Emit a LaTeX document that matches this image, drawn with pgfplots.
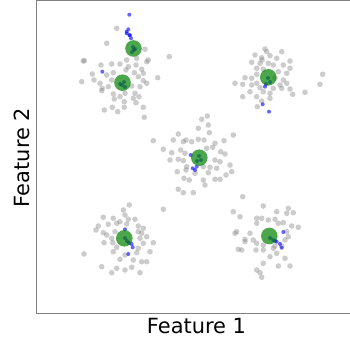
\documentclass[border=0pt]{standalone}
\usepackage{pgfplots}
\pgfplotsset{compat=1.18}
\usepackage{fontspec}
\setmainfont{DejaVu Sans}
\definecolor{spine}{RGB}{128,128,128}
\definecolor{mgreen}{RGB}{0,128,0}
\begin{document}
\begin{tikzpicture}
\begin{axis}[
  name=ax, at={(36.5bp,28.7bp)}, anchor=south west,
  scale only axis, width=320bp, height=312.8bp,
  xmin=36.5, xmax=356.5, ymin=-313.3, ymax=-0.5,
  xtick=\empty, ytick=\empty,
  axis line style={spine, line width=0.9bp},
  clip=true,
]
% gray points
\addplot[only marks, mark=*, color=gray, mark size=2.8bp, mark options={draw opacity=0, fill=gray, fill opacity=0.4}] coordinates {
(106.7,-43.3)(116.7,-28.3)(84.3,-60.7)(101,-65)(111.7,-64)(120,-64)(126.7,-60)(136.7,-58.3)(146.7,-61.7)(148.3,-60)
(128.3,-66.7)(136,-65)(141.7,-69.3)(92.3,-74)(81.7,-81.7)(94,-80)(100,-83.3)(106.7,-75)(113.3,-72.7)(111.7,-80)
(134.3,-72.7)(138.3,-76.7)(143.3,-73.3)(146.7,-83.3)(157.7,-77.7)(102.3,-88.3)(108.3,-86.7)(101.7,-90.7)(113.3,-94)(120,-96.7)
(131.7,-86)(135,-93.3)(140,-86.7)(143.3,-80.7)(139,-96.7)(125,-93.3)(114.3,-99)(124.3,-101.7)(133.3,-98.3)(136,-102.7)
(104.3,-110)(112.3,-107.3)(124.3,-107.3)(117.7,-111.7)(143.3,-107.3)(144.3,-117.3)(145,-49.3)(169.3,-56.7)(83.3,-61)(126,-70)
(265,-49)(266.7,-51.7)(281.7,-51.7)(255,-55)(261.7,-57.7)(270,-55.7)(276.7,-58.3)(290,-61)(251.7,-62.3)(260,-63.3)
(268.3,-63.3)(273.3,-65)(283.3,-65)(290,-68.3)(256.7,-68.3)(263.3,-69.3)(278.3,-71.7)(286.7,-73.3)(245,-77.7)(251.7,-78.3)
(256.7,-74.3)(283.3,-80)(235,-83.3)(242.7,-84.3)(251.7,-85)(256.7,-83.3)(280,-85)(286.7,-83.3)(260,-87.7)(273.3,-88.3)
(281.7,-88.3)(290,-89)(242.7,-96.7)(250,-91.7)(263.3,-91.7)(270,-93.3)(292.7,-94.3)(305,-92.3)(256.7,-96.7)(270,-98.3)
(257.3,-106.7)(320,-84.3)(322.7,-74.3)(261.7,-101)(262,-60)(275,-78)
(201.7,-119.3)(207.3,-116)(198.3,-128.3)(208.3,-125)(153.3,-140.7)(178.3,-134)(173.3,-140)(183.3,-141.7)(186,-140)(191.7,-141.7)
(198.3,-139.3)(204,-140)(209.3,-132.7)(233.3,-135)(224,-140.7)(215,-143.3)(163.3,-149.3)(171.7,-152.7)(180.7,-150)(185,-153.3)
(206.7,-148.3)(212.7,-147.3)(220.7,-151.7)(225,-154)(170,-160)(178.3,-159.3)(183.3,-160.7)(215,-160)(220,-161.7)(230,-165)
(186.7,-166.7)(203.3,-166.7)(210,-167.3)(216.7,-168.3)(177.3,-171.7)(186,-170)(231.7,-171.7)(195,-173.3)(208.3,-172.7)(226,-175)
(184,-178.3)(189.3,-180)(203.3,-180)(215,-179.3)(220,-179.3)(178.3,-189.3)(183.3,-192.7)(193.3,-192.7)(205,-185)(242.7,-196.7)
(129.3,-205)(123.3,-210)(163.3,-209.3)(125,-215)(103.3,-217.3)(113.3,-218.3)(120,-221.7)(128.3,-219.3)(135,-219.3)(98.3,-226)
(96,-230)(108.3,-224.3)(116.7,-223.3)(126.7,-224)(138.3,-226)(143.3,-228.3)(103.3,-232.7)(106.7,-235)(115,-231.7)(138.3,-231.7)
(141.7,-233.3)(111.7,-238.3)(140,-238.3)(146.7,-236.7)(104,-242.7)(112.7,-242.7)(143.3,-243.3)(153.3,-242.7)(116.7,-247.3)(138.3,-248.3)
(113.3,-251.7)(150,-251.7)(84,-254)(136.7,-252.7)(125,-255)(120,-259.3)(133.3,-260)(141.7,-261.7)(146.7,-261.7)(101.7,-266.7)
(116.7,-268.3)(125,-270)(131.7,-267.3)(111.7,-272.7)(140,-272.7)
(233.3,-211.7)(240,-216.7)(263.3,-206)(276.7,-211.7)(288.3,-208.3)(293.3,-212.7)(286.7,-213.3)(256.7,-218.3)(261.7,-218.3)(268.3,-220)
(275,-219.3)(256.7,-223.3)(278.3,-223.3)(283.3,-222.7)(291.7,-226)(298.3,-227.3)(236.7,-231.7)(235,-233.3)(250,-233.3)(286.7,-231.7)
(288.3,-236.7)(245,-239.3)(253.3,-240)(245,-241.7)(285,-240)(256.7,-243.3)(263.3,-245)(275,-246)(281.7,-246)(238.3,-249.3)
(241.7,-250)(256,-250)(263.3,-250)(273.3,-248.3)(276.7,-253.3)(270,-256.7)(285,-258.3)(263.3,-263.3)(256.7,-270)(260,-272.7)
(278.3,-266)(290,-266)(261.7,-277.3)
};
% blue points
\addplot[only marks, mark=*, color=blue, mark size=2bp, mark options={draw opacity=0, fill=blue, fill opacity=0.6}] coordinates {
(129.3,-14.7)(128.3,-29.3)(126.7,-33.3)(130,-35.3)(131,-38.3)(129.3,-35)(126.7,-31.7)(102.3,-71.7)
(133,-47)(134,-50)(132,-52)(135,-49)
(122,-85)(125,-87)(120,-84)(124,-82)
(268,-78)(270,-82)(266,-84)(265,-86.7)(262.7,-104.3)(269,-111.7)
(199,-156)(201,-160)(197,-161)(192.7,-168.3)(195,-170)(190.7,-155)(196.7,-166.7)
(125,-238)(127,-241)(129,-243)(131.7,-244)(132.7,-247.3)(128.3,-254)(125,-229.3)
(270,-238)(273,-240)(275,-241)(283.3,-232)(276.7,-241.7)(280,-244)(281.7,-247.7)
};
% green centroids
\addplot[only marks, mark=*, color=mgreen, mark size=8.3bp, mark options={draw opacity=0, fill=mgreen, fill opacity=0.7}] coordinates {
(133.5,-48.5)(122.5,-82.7)(268.3,-77.3)(199.3,-157.7)(124.3,-238.3)(269.3,-236)
};
\end{axis}
\node[anchor=base, font=\fontsize{21}{25}\selectfont] at (196.5bp,9bp) {Feature 1};
\node[anchor=base, rotate=90, font=\fontsize{21}{25}\selectfont] at (29.5bp,184.5bp) {Feature 2};
\pgfresetboundingbox
\path[use as bounding box] (0,0) rectangle (350bp,342bp);
\end{tikzpicture}
\end{document}
